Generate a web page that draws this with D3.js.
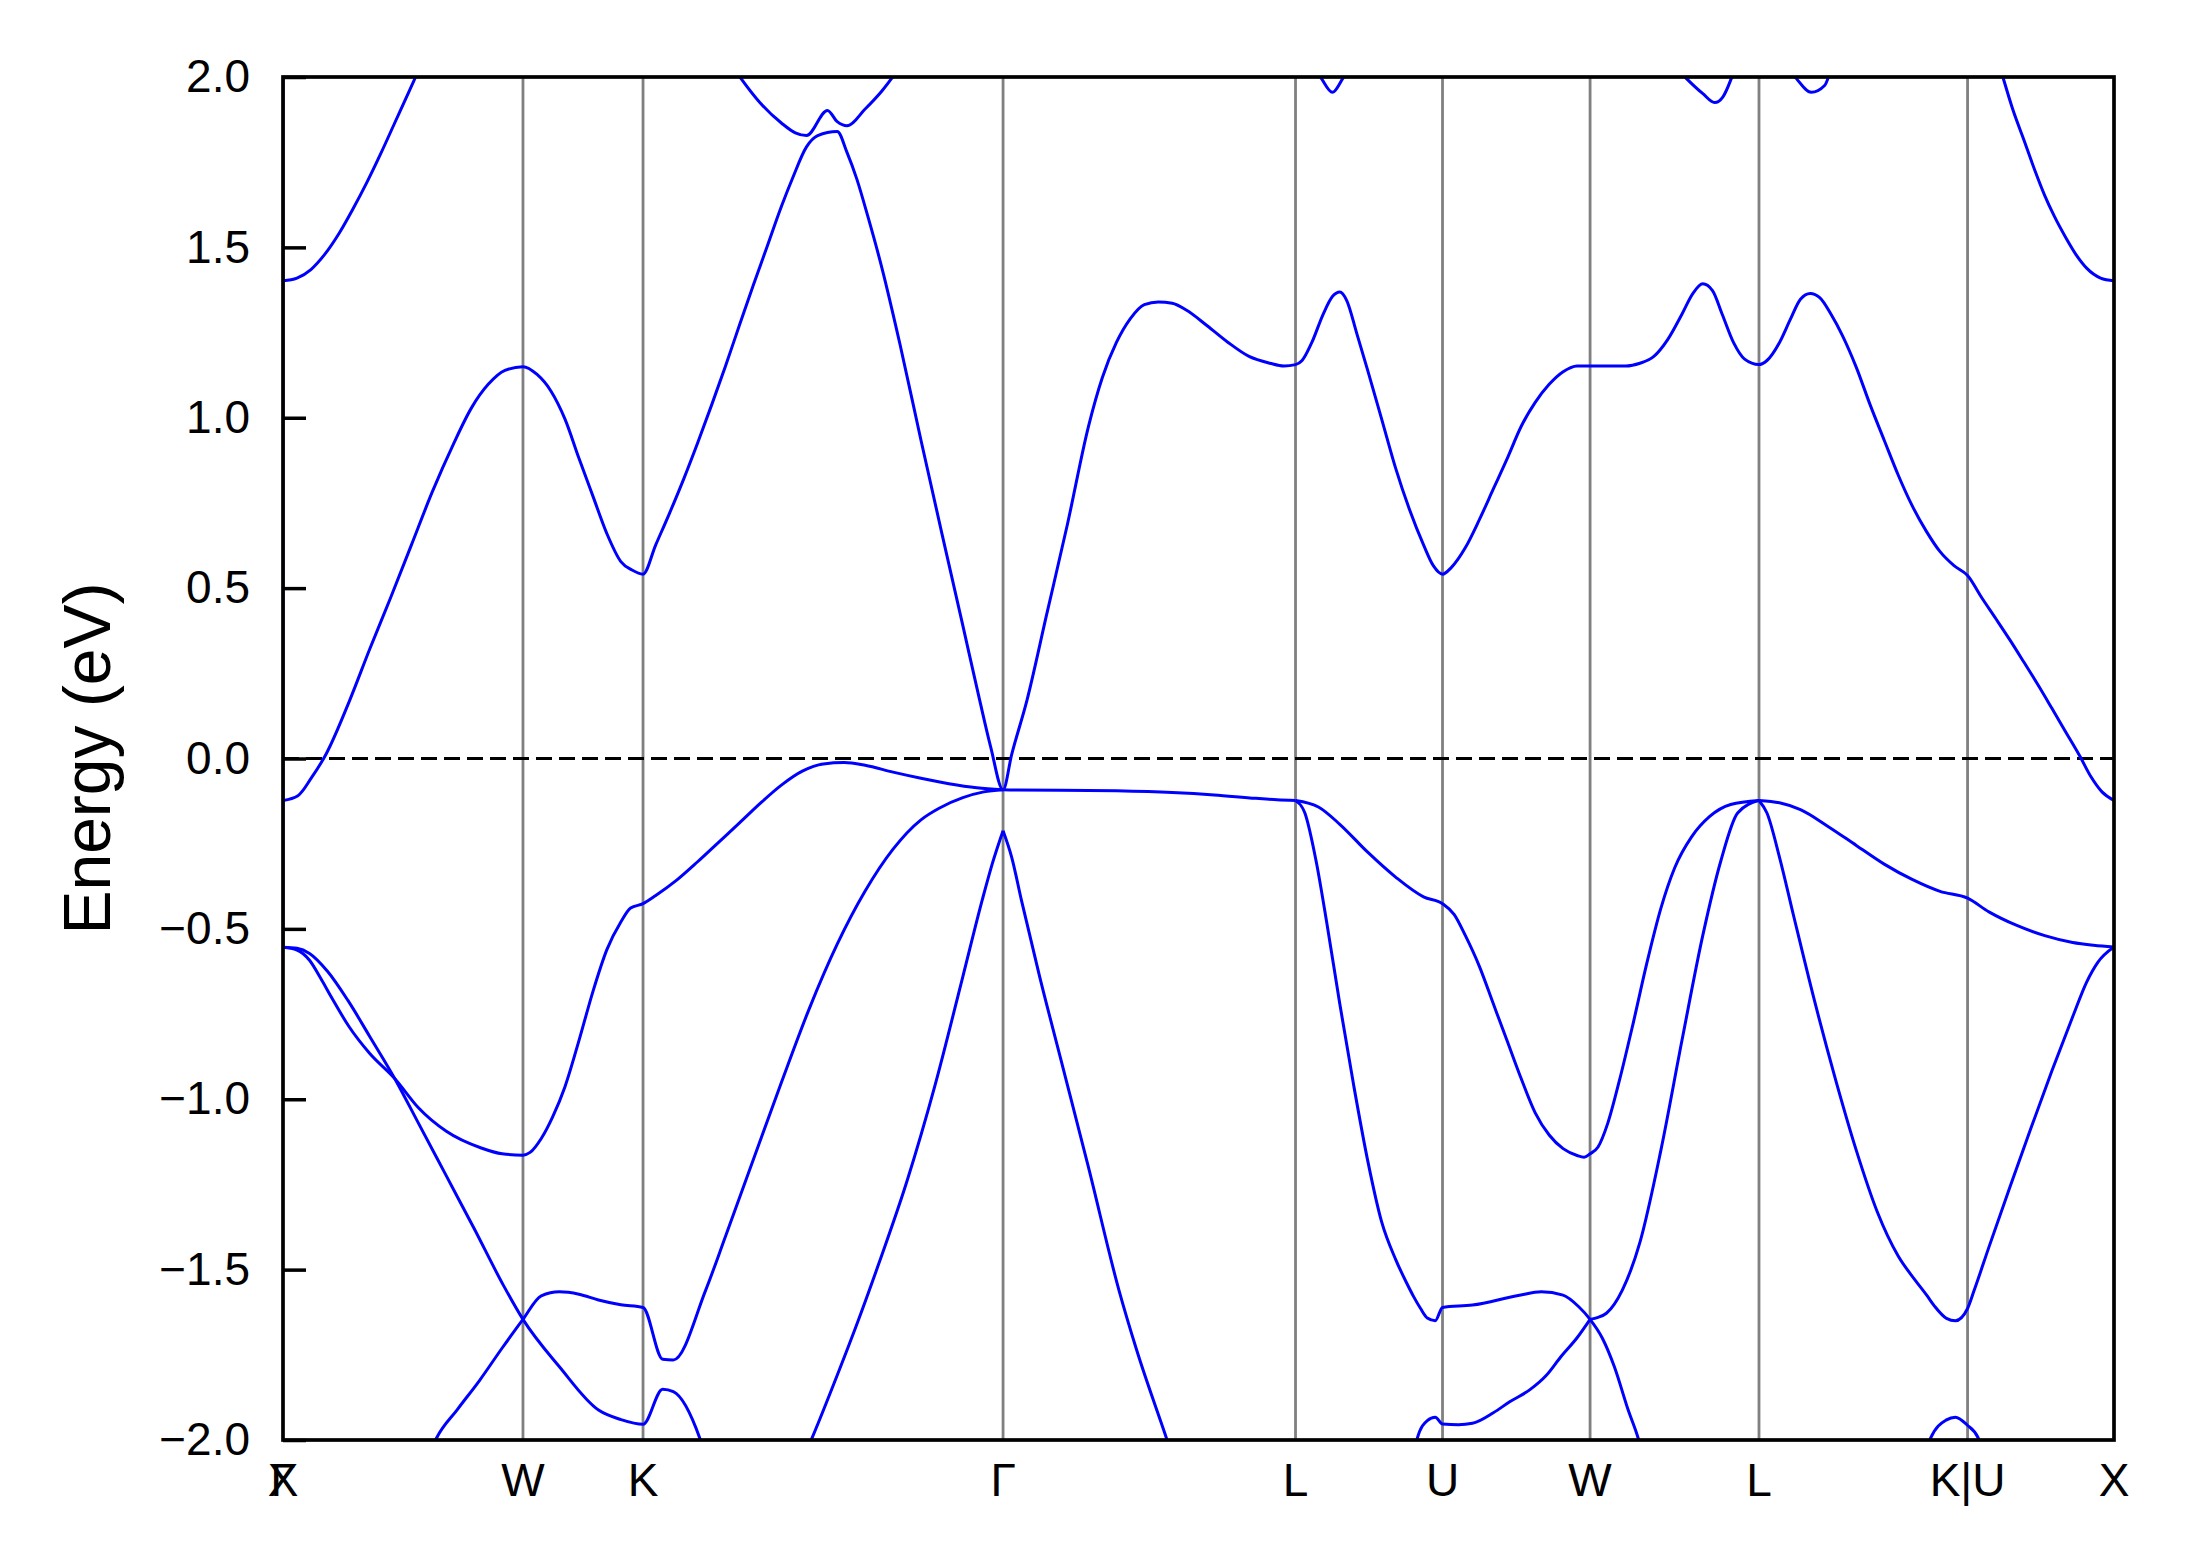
<!DOCTYPE html>
<meta charset="utf-8">
<html>
<head>
<style>
  body { margin: 0; background: #fff; }
  text { font-family: "Liberation Sans", Arial, sans-serif; fill: #000; }
</style>
</head>
<body>
<svg id="chart" width="2189" height="1567"></svg>
<script src="https://d3js.org/d3.v7.min.js"></script>
<script>

// high symmetry points along the k path (path distance units)
var kTicks  = [0, 1.719, 2.579, 5.158, 7.253, 8.306, 9.363, 10.573, 12.067, 13.116];
var kLabels = ["X", "W", "K", "Γ", "L", "U", "W", "L", "K|U", "X"];
var yTicks  = [-2.0, -1.5, -1.0, -0.5, 0.0, 0.5, 1.0, 1.5, 2.0];

// bands, [k, energy in eV]
var gammaX = [[0, -0.554], [0, 2.1]];   // zero-length Γ-X segment at the start

var condTopLeft = [[0,1.402],[0.10,1.41],[0.20,1.435],[0.30,1.48],[0.40,1.54],[0.50,1.612],
  [0.60,1.69],[0.70,1.775],[0.80,1.865],[0.90,1.955],[0.95,2.0],[1.0,2.045]];

var condLow = [[0,-0.123],[0.107,-0.109],[0.203,-0.057],[0.31,0.014],[0.477,0.170],[0.62,0.32],
  [0.77,0.471],[0.92,0.627],[1.07,0.783],[1.22,0.922],[1.35,1.029],[1.47,1.098],[1.59,1.139],
  [1.719,1.15],[1.82,1.127],[1.92,1.078],[2.02,0.996],[2.12,0.881],[2.22,0.77],[2.32,0.66],
  [2.42,0.578],[2.50,0.553],[2.579,0.541],[2.67,0.627],[2.77,0.721],[2.87,0.82],[2.97,0.926],
  [3.07,1.037],[3.17,1.152],[3.27,1.272],[3.37,1.39],[3.47,1.505],[3.57,1.62],[3.65,1.703],
  [3.75,1.795],[3.83,1.828],[3.97,1.84],[4.04,1.779],[4.11,1.701],[4.19,1.59],[4.29,1.44],
  [4.42,1.215],[4.57,0.934],[4.72,0.66],[4.87,0.39],[4.99,0.172],[5.07,0.033],[5.158,-0.092],
  [5.22,0.012],[5.33,0.172],[5.47,0.422],[5.62,0.689],[5.77,0.975],[5.87,1.119],[5.97,1.221],
  [6.07,1.291],[6.17,1.332],[6.27,1.34],[6.37,1.336],[6.47,1.316],[6.62,1.27],[6.77,1.221],
  [6.92,1.18],[7.07,1.16],[7.17,1.152],[7.253,1.156],[7.30,1.168],[7.37,1.221],[7.45,1.303],
  [7.52,1.357],[7.57,1.369],[7.62,1.344],[7.69,1.25],[7.77,1.139],[7.87,0.996],[7.97,0.852],
  [8.07,0.73],[8.17,0.627],[8.24,0.566],[8.306,0.541],[8.37,0.561],[8.47,0.619],[8.57,0.701],
  [8.67,0.791],[8.77,0.881],[8.87,0.975],[8.97,1.045],[9.07,1.098],[9.17,1.135],[9.27,1.152],
  [9.363,1.152],[9.47,1.152],[9.62,1.152],[9.72,1.16],[9.82,1.18],[9.92,1.23],[10.02,1.303],
  [10.10,1.365],[10.17,1.393],[10.24,1.373],[10.31,1.303],[10.39,1.221],[10.47,1.172],
  [10.573,1.156],[10.63,1.168],[10.72,1.221],[10.80,1.291],[10.87,1.348],[10.94,1.365],
  [11.01,1.352],[11.09,1.303],[11.17,1.242],[11.27,1.148],[11.37,1.037],[11.47,0.934],
  [11.57,0.832],[11.67,0.742],[11.77,0.668],[11.87,0.607],[11.97,0.566],[12.067,0.537],
  [12.17,0.471],[12.27,0.41],[12.37,0.348],[12.47,0.283],[12.57,0.217],[12.67,0.148],
  [12.77,0.078],[12.87,0.008],[12.95,-0.053],[13.03,-0.098],[13.116,-0.123]];

var condTopKG = [[3.22,2.03],[3.414,1.926],[3.57,1.865],[3.67,1.836],[3.75,1.828],[3.90,1.902],
  [3.97,1.869],[4.04,1.857],[4.17,1.906],[4.29,1.959],[4.42,2.03]];
var condTopL1 = [[7.34,2.06],[7.438,1.996],[7.517,1.955],[7.592,1.996],[7.69,2.06]];
var condTopL2 = [[9.95,2.04],[10.052,1.996],[10.171,1.951],[10.255,1.925],[10.315,1.942],[10.375,1.996],[10.42,2.05]];
var condTopL3 = [[10.76,2.04],[10.84,1.996],[10.948,1.955],[11.043,1.975],[11.067,1.996],[11.10,2.05]];
var condTopRight = [[12.29,2.041],[12.32,2.0],[12.39,1.906],[12.47,1.816],[12.55,1.725],[12.62,1.652],
  [12.69,1.59],[12.77,1.529],[12.85,1.475],[12.92,1.439],[13.02,1.41],[13.116,1.402]];

var valTop = [[0,-0.554],[0.10,-0.562],[0.19,-0.592],[0.27,-0.645],[0.346,-0.70],[0.47,-0.785],
  [0.62,-0.865],[0.80,-0.939],[0.97,-1.025],[1.17,-1.094],[1.42,-1.143],[1.57,-1.16],[1.719,-1.164],
  [1.77,-1.156],[1.85,-1.115],[1.93,-1.053],[2.02,-0.963],[2.12,-0.828],[2.22,-0.684],[2.32,-0.561],
  [2.42,-0.48],[2.49,-0.439],[2.579,-0.426],[2.67,-0.402],[2.82,-0.357],[2.97,-0.303],[3.12,-0.246],
  [3.27,-0.189],[3.42,-0.131],[3.57,-0.078],[3.72,-0.037],[3.87,-0.016],[4.02,-0.012],[4.17,-0.02],
  [4.37,-0.04],[4.57,-0.058],[4.77,-0.074],[4.97,-0.086],[5.158,-0.092]];

var valXW = [[0,-0.554],[0.10,-0.557],[0.19,-0.572],[0.32,-0.625],[0.465,-0.71],[0.62,-0.815],
  [0.80,-0.939],[0.97,-1.07],[1.17,-1.225],[1.37,-1.38],[1.58,-1.547],[1.719,-1.646],[1.98,-1.785],
  [2.26,-1.912],[2.42,-1.94],[2.579,-1.954],[2.72,-1.851],[2.796,-1.858],[2.985,-1.994],[3.03,-2.05]];

var valWK = [[1.02,-2.07],[1.10,-1.994],[1.25,-1.91],[1.41,-1.824],[1.57,-1.73],[1.719,-1.646],
  [1.85,-1.577],[1.98,-1.565],[2.12,-1.572],[2.26,-1.589],[2.42,-1.603],[2.579,-1.611],[2.72,-1.763],
  [2.796,-1.765],[3.028,-1.56],[3.17,-1.402],[3.37,-1.176],[3.57,-0.951],[3.77,-0.734],[3.97,-0.545],
  [4.17,-0.389],[4.37,-0.266],[4.57,-0.18],[4.70,-0.146],[4.87,-0.115],[5.02,-0.098],[5.158,-0.092]];

var valGammaLeft = [[3.70,-2.08],[3.79,-1.994],[3.97,-1.81],[4.12,-1.65],[4.27,-1.48],[4.47,-1.24],
  [4.67,-0.96],[4.87,-0.64],[5.009,-0.415],[5.08,-0.31],[5.158,-0.212]];
var valGammaRight = [[5.158,-0.212],[5.22,-0.29],[5.289,-0.415],[5.42,-0.64],[5.57,-0.88],[5.77,-1.20],
  [5.988,-1.56],[6.115,-1.736],[6.328,-1.994],[6.39,-2.07]];

var valGL = [[5.158,-0.092],[5.57,-0.093],[5.97,-0.095],[6.37,-0.10],[6.67,-0.107],[6.97,-0.117],
  [7.12,-0.121],[7.253,-0.123]];

var valLUW = [[7.253,-0.123],[7.32,-0.16],[7.40,-0.30],[7.48,-0.49],[7.57,-0.72],[7.67,-0.96],
  [7.77,-1.18],[7.87,-1.36],[7.97,-1.47],[8.05,-1.54],[8.10,-1.58],[8.15,-1.615],[8.197,-1.642],
  [8.254,-1.65],[8.306,-1.611],[8.52,-1.604],[8.857,-1.575],[9.013,-1.565],[9.169,-1.575],
  [9.282,-1.609],[9.363,-1.646],[9.452,-1.702],[9.537,-1.785],[9.636,-1.912],[9.707,-1.994],[9.75,-2.06]];

var valLUWL = [[7.253,-0.123],[7.42,-0.143],[7.57,-0.193],[7.77,-0.275],[7.97,-0.348],[8.17,-0.406],
  [8.306,-0.426],[8.39,-0.458],[8.47,-0.52],[8.57,-0.61],[8.67,-0.72],[8.77,-0.83],[8.87,-0.94],
  [8.97,-1.04],[9.07,-1.105],[9.17,-1.145],[9.27,-1.165],[9.32,-1.17],[9.363,-1.16],[9.42,-1.14],
  [9.49,-1.07],[9.57,-0.95],[9.67,-0.78],[9.77,-0.60],[9.87,-0.44],[9.97,-0.32],[10.09,-0.23],
  [10.22,-0.17],[10.37,-0.135],[10.573,-0.123]];

var valWL = [[9.363,-1.646],[9.42,-1.64],[9.48,-1.628],[9.594,-1.56],[9.72,-1.42],[9.87,-1.15],
  [10.02,-0.83],[10.17,-0.52],[10.30,-0.30],[10.42,-0.16],[10.573,-0.123]];

var valLKX = [[10.573,-0.123],[10.63,-0.16],[10.72,-0.29],[10.82,-0.46],[10.97,-0.71],[11.12,-0.94],
  [11.27,-1.15],[11.42,-1.33],[11.57,-1.46],[11.69,-1.53],[11.774,-1.575],[11.83,-1.607],
  [11.916,-1.643],[11.98,-1.65],[12.067,-1.614],[12.115,-1.56],[12.22,-1.434],[12.37,-1.258],
  [12.52,-1.086],[12.67,-0.918],[12.82,-0.758],[12.92,-0.656],[13.0,-0.598],[13.116,-0.553]];

var valLKXtop = [[10.573,-0.123],[10.72,-0.13],[10.87,-0.15],[11.07,-0.20],[11.27,-0.255],[11.47,-0.31],
  [11.67,-0.355],[11.87,-0.39],[12.067,-0.41],[12.22,-0.45],[12.42,-0.49],[12.62,-0.52],[12.82,-0.54],
  [12.97,-0.548],[13.116,-0.553]];

var valBottomU = [[8.10,-2.06],[8.126,-1.994],[8.197,-1.943],[8.254,-1.933],[8.306,-1.953],[8.42,-1.955],
  [8.52,-1.951],[8.67,-1.92],[8.787,-1.888],[8.93,-1.853],[9.05,-1.81],[9.155,-1.755],[9.27,-1.70],[9.363,-1.646]];
var valBottomKU = [[11.75,-2.06],[11.803,-1.994],[11.916,-1.941],[11.98,-1.933],[12.064,-1.956],[12.143,-1.994],[12.19,-2.06]];

var bands = [gammaX, condTopLeft, condLow, condTopKG, condTopL1, condTopL2, condTopL3, condTopRight,
  valTop, valXW, valWK, valGammaLeft, valGammaRight, valGL, valLUW, valLUWL, valWL, valLKX, valLKXtop,
  valBottomU, valBottomKU];

// plot frame (pixels)
var svg = d3.select("#chart");
var plotLeft = 283, plotRight = 2114, plotTop = 77, plotBottom = 1440;

svg.append("rect").attr("width", 2189).attr("height", 1567).attr("fill", "#fff");

var x = d3.scaleLinear().domain([kTicks[0], kTicks[kTicks.length - 1]]).range([plotLeft, plotRight]);
var y = d3.scaleLinear().domain([-2, 2]).range([plotBottom, plotTop]);

svg.append("clipPath").attr("id", "plot")
  .append("rect").attr("x", plotLeft).attr("y", plotTop)
  .attr("width", plotRight - plotLeft).attr("height", plotBottom - plotTop);

// grey lines at the high symmetry points
svg.append("g").selectAll("line")
  .data(kTicks.slice(1, -1))
  .enter().append("line")
  .attr("x1", function(d) { return x(d); }).attr("x2", function(d) { return x(d); })
  .attr("y1", plotTop).attr("y2", plotBottom)
  .attr("stroke", "#808080").attr("stroke-width", 2.8);

// fermi level
svg.append("line")
  .attr("x1", plotLeft).attr("x2", plotRight).attr("y1", y(0)).attr("y2", y(0))
  .attr("stroke", "#000").attr("stroke-width", 3).attr("stroke-dasharray", "16,7");

var line = d3.line()
  .x(function(d) { return x(d[0]); })
  .y(function(d) { return y(d[1]); })
  .curve(d3.curveMonotoneX);

var lineStraight = d3.line()
  .x(function(d) { return x(d[0]); })
  .y(function(d) { return y(d[1]); });

svg.append("g").attr("clip-path", "url(#plot)")
  .selectAll("path")
  .data(bands)
  .enter().append("path")
  .attr("d", function(d) { return d === gammaX ? lineStraight(d) : line(d); })
  .attr("fill", "none")
  .attr("stroke", "#0000ff")
  .attr("stroke-width", 3)
  .attr("stroke-linejoin", "round");

// y axis, ticks pointing inwards
var yAxis = d3.axisLeft(y)
  .tickValues(yTicks)
  .tickSize(-23)
  .tickPadding(33)
  .tickFormat(function(d) { return d3.format(".1f")(d).replace("-", "\u2212"); });

var gy = svg.append("g").attr("transform", "translate(" + plotLeft + ",0)").call(yAxis);
gy.select(".domain").remove();
gy.selectAll("line").attr("stroke", "#000").attr("stroke-width", 3.5);
gy.selectAll("text")
  .attr("font-size", 46)
  .attr("fill", "#000")
  .attr("font-family", "Liberation Sans, Arial, sans-serif");

// x labels (Γ and X share the first position)
svg.append("g").selectAll("text")
  .data(kTicks.map(function(k, i) { return [k, kLabels[i]]; }).concat([[kTicks[0], "Γ"]]))
  .enter().append("text")
  .attr("x", function(d) { return x(d[0]); })
  .attr("y", 1496)
  .attr("text-anchor", "middle")
  .attr("font-size", 46)
  .text(function(d) { return d[1]; });

// frame drawn last so it sits over the bands
svg.append("rect")
  .attr("x", plotLeft).attr("y", plotTop)
  .attr("width", plotRight - plotLeft).attr("height", plotBottom - plotTop)
  .attr("fill", "none").attr("stroke", "#000").attr("stroke-width", 3.7);

svg.append("text")
  .attr("transform", "translate(87," + y(0) + ") rotate(-90)")
  .attr("text-anchor", "middle")
  .attr("dominant-baseline", "central")
  .attr("font-size", 66)
  .text("Energy (eV)");

</script>
</body>
</html>
